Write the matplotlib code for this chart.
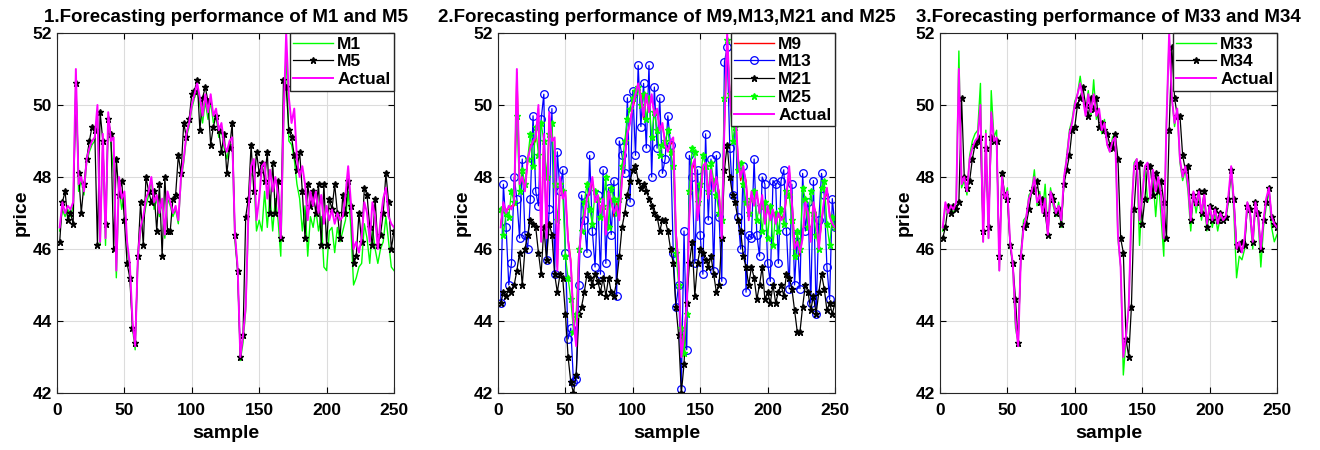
import numpy as np
import matplotlib
matplotlib.use('Agg')
import matplotlib.pyplot as plt

plt.rcParams['font.family'] = ['Liberation Sans', 'DejaVu Sans']
plt.rcParams['font.weight'] = 'bold'

# sample index (every second sample)
sample = np.arange(2, 251, 2)

actual = [46.6, 47.3, 47.0, 47.2, 47.1, 47.3, 51.0, 47.8, 48.0, 47.6,
          48.5, 48.8, 49.0, 49.1, 50.0, 46.2, 49.2, 46.3, 49.8, 49.0,
          49.1, 45.4, 48.0, 47.4, 47.6, 46.2, 45.6, 44.0, 43.3, 45.8,
          46.6, 46.9, 47.4, 47.6, 48.0, 47.3, 47.5, 47.0, 47.4, 46.4,
          47.6, 47.3, 47.0, 47.2, 46.8, 48.0, 48.5, 49.2, 49.5, 50.0,
          50.3, 50.6, 50.2, 49.7, 50.3, 49.8, 50.3, 49.7, 49.9, 49.3,
          49.5, 48.9, 48.7, 49.0, 49.1, 46.4, 45.5, 43.0, 43.6, 44.4,
          47.0, 48.3, 48.5, 46.8, 47.4, 48.3, 48.4, 47.4, 48.2, 47.6,
          48.0, 47.5, 46.3, 49.5, 52.0, 50.2, 49.5, 49.9, 48.5, 48.0,
          48.3, 47.8, 46.8, 47.6, 47.2, 47.6, 47.0, 47.5, 46.7, 47.2,
          46.8, 47.1, 46.7, 47.0, 46.8, 46.9, 47.5, 48.3, 47.3, 46.0,
          46.2, 45.9, 46.3, 47.3, 47.0, 46.2, 47.3, 46.9, 46.0, 46.8,
          47.4, 47.7, 46.9, 46.7, 46.6]

m1 = [46.5, 47.1, 46.9, 47.1, 46.9, 47.2, 50.8, 47.6, 47.9, 47.5,
      48.4, 48.7, 48.9, 49.0, 49.8, 46.1, 49.0, 46.1, 49.6, 48.9,
      48.1, 45.2, 47.8, 47.1, 47.5, 46.0, 45.5, 43.8, 43.2, 45.7,
      46.5, 46.8, 47.2, 47.5, 47.9, 47.1, 47.4, 46.9, 47.3, 46.3,
      47.4, 47.2, 46.9, 47.1, 46.7, 47.9, 48.4, 49.1, 49.4, 49.9,
      50.2, 50.4, 50.0, 49.5, 50.1, 49.6, 50.1, 49.5, 49.7, 49.1,
      49.3, 48.8, 48.5, 48.9, 48.9, 46.2, 45.4, 42.9, 43.4, 44.3,
      46.8, 48.1, 48.0, 46.5, 46.8, 46.5, 47.6, 46.6, 47.5, 46.5,
      47.4, 46.8, 45.8, 49.3, 51.5, 49.0, 48.9, 48.5, 47.8, 47.4,
      46.5, 47.2, 45.8, 46.9, 46.6, 47.1, 46.5, 46.9, 45.5, 45.4,
      46.5, 46.6, 45.9, 46.6, 46.2, 46.5, 46.8, 47.6, 46.6, 45.0,
      45.2, 45.5, 45.6, 46.7, 46.3, 45.6, 46.6, 46.0, 45.6, 46.0,
      46.2, 46.9, 46.2, 45.5, 45.4]

m5 = [46.2, 47.3, 47.6, 46.8, 47.0, 46.7, 50.6, 48.1, 47.0, 47.8,
      48.5, 49.0, 49.4, 49.3, 46.1, 49.8, 49.0, 46.7, 49.6, 49.2,
      46.0, 48.5, 47.5, 47.9, 46.8, 45.6, 45.2, 43.8, 43.4, 45.8,
      47.3, 46.1, 48.0, 47.6, 47.3, 47.6, 46.5, 47.8, 45.8, 48.0,
      46.5, 46.5, 47.4, 47.5, 48.6, 48.1, 49.5, 49.1, 49.6, 50.3,
      50.4, 50.7, 49.3, 50.2, 50.5, 50.1, 48.9, 49.4, 49.7, 49.3,
      48.7, 49.2, 48.1, 48.8, 49.5, 46.4, 45.4, 43.0, 43.6, 46.9,
      47.4, 48.9, 47.6, 48.7, 48.1, 48.4, 47.9, 48.7, 47.0, 48.4,
      47.0, 47.9, 46.3, 50.7, 50.5, 49.3, 49.1, 48.6, 48.2, 48.7,
      47.6, 46.3, 47.8, 47.2, 47.6, 47.0, 47.8, 46.1, 47.8, 46.1,
      47.4, 47.1, 47.8, 47.0, 46.3, 47.5, 47.0, 47.9, 47.2, 45.6,
      45.8, 47.0, 46.2, 47.7, 47.5, 46.6, 46.1, 47.4, 46.1, 46.4,
      47.0, 48.1, 47.3, 46.0, 46.5]

m9 = [46.7, 47.2, 47.1, 47.1, 47.2, 47.2, 50.9, 47.9, 47.9, 47.7,
      48.4, 48.9, 48.9, 49.0, 49.9, 46.3, 49.1, 46.4, 49.7, 49.1,
      49.0, 45.5, 47.9, 47.5, 47.5, 46.3, 45.7, 44.1, 43.4, 45.7,
      46.7, 46.8, 47.5, 47.5, 47.9, 47.4, 47.4, 47.1, 47.3, 46.5,
      47.5, 47.4, 46.9, 47.3, 46.9, 47.9, 48.6, 49.1, 49.6, 49.9,
      50.2, 50.5, 50.3, 49.6, 50.2, 49.9, 50.2, 49.8, 49.8, 49.4,
      49.4, 49.0, 48.8, 48.9, 49.0, 46.5, 45.6, 43.1, 43.5, 44.5,
      46.9, 48.2, 48.4, 46.9, 47.3, 48.2, 48.3, 47.5, 48.1, 47.7,
      47.9, 47.6, 46.4, 49.4, 51.8, 50.3, 49.4, 49.8, 48.6, 47.9,
      48.2, 47.9, 46.9, 47.5, 47.3, 47.5, 47.1, 47.4, 46.8, 47.1,
      46.9, 47.0, 46.8, 46.9, 46.9, 46.8, 47.4, 48.2, 47.4, 46.1,
      46.3, 45.8, 46.4, 47.2, 47.1, 46.3, 47.2, 47.0, 46.1, 46.7,
      47.3, 47.6, 47.0, 46.6, 46.7]

m13 = [44.5, 47.8, 46.6, 45.0, 45.6, 48.0, 47.4, 46.3, 48.5, 46.4,
       46.0, 47.4, 49.7, 47.6, 47.2, 49.6, 50.3, 45.7, 47.1, 49.9,
       45.3, 48.7, 47.6, 48.2, 45.9, 43.5, 43.8, 42.3, 42.4, 45.0,
       47.5, 46.8, 45.9, 48.6, 46.5, 45.5, 47.5, 45.3, 48.2, 45.6,
       47.7, 46.4, 47.9, 44.7, 49.0, 48.6, 48.1, 50.2, 47.3, 50.4,
       48.6, 51.1, 49.4, 50.6, 48.8, 51.1, 48.0, 50.5, 48.8, 50.2,
       48.1, 48.5, 49.7, 48.9, 45.9, 44.4, 45.0, 42.1, 46.5, 43.2,
       48.6, 48.0, 45.6, 48.2, 46.4, 45.3, 49.2, 46.8, 48.5, 45.4,
       48.6, 46.9, 45.1, 51.2, 51.6, 48.8, 47.5, 50.2, 46.9, 46.0,
       48.3, 44.8, 46.4, 46.3, 48.5, 46.4, 45.8, 48.0, 47.8, 45.6,
       45.1, 47.9, 47.8, 45.6, 47.9, 48.2, 46.5, 44.9, 47.8, 45.0,
       46.4, 44.9, 48.1, 46.5, 47.3, 44.5, 47.9, 44.2, 46.8, 48.1,
       47.5, 45.5, 44.6, 47.4, 46.6]

m21 = [44.5, 44.8, 44.7, 44.9, 44.8, 45.0, 45.4, 45.9, 45.0, 46.0,
       46.4, 46.8, 46.7, 46.6, 45.9, 45.3, 46.6, 45.7, 46.7, 46.4,
       45.3, 44.8, 45.3, 45.2, 44.2, 43.0, 42.3, 42.0, 42.5, 44.2,
       44.4, 44.8, 45.3, 45.2, 45.0, 45.3, 45.1, 44.8, 45.2, 44.7,
       45.2, 44.8, 44.7, 45.1, 45.8, 46.6, 47.0, 47.5, 47.9, 48.2,
       48.3, 47.9, 47.7, 47.8, 47.6, 47.4, 47.2, 47.0, 46.9, 46.5,
       46.8, 46.8, 46.5, 46.0, 45.6, 44.4, 43.6, 42.0, 42.8, 44.5,
       45.6, 46.2, 44.7, 45.6, 46.0, 45.9, 45.7, 45.5, 45.8, 45.3,
       44.8, 45.0, 46.3, 48.2, 48.9, 48.0, 47.5, 47.3, 46.8, 46.5,
       45.8, 45.5, 45.0, 45.5, 45.2, 44.6, 45.0, 45.5, 44.6, 44.8,
       44.5, 45.0, 44.5, 44.8, 45.0, 44.7, 45.3, 45.2, 44.9, 44.3,
       43.7, 43.7, 44.4, 45.0, 44.8, 44.3, 44.7, 44.2, 44.8, 45.3,
       44.9, 44.3, 44.5, 44.2, 44.5]

m25 = [47.1, 46.4, 47.0, 46.9, 47.6, 47.3, 49.7, 47.6, 48.2, 47.8,
       48.5, 49.2, 48.3, 49.4, 48.6, 49.5, 49.0, 48.0, 49.2, 49.5,
       47.8, 46.8, 47.8, 47.6, 45.8, 45.2, 44.6, 43.7, 44.2, 46.0,
       46.5, 47.3, 47.8, 47.1, 46.7, 47.6, 47.4, 46.9, 47.2, 48.0,
       46.6, 47.7, 47.4, 47.0, 47.4, 48.3, 49.0, 49.6, 49.9, 50.2,
       50.4, 50.5, 50.0, 50.3, 49.6, 50.2, 49.1, 49.8, 49.3, 48.6,
       48.9, 49.0, 49.3, 48.7, 48.3, 45.9, 45.0, 43.8, 43.1, 44.2,
       47.6, 48.8, 48.7, 47.3, 47.8, 48.6, 48.3, 47.6, 48.4, 47.9,
       47.5, 47.0, 46.8, 50.2, 51.8, 50.3, 49.0, 49.4, 48.2, 48.4,
       47.8, 47.3, 47.0, 47.4, 47.6, 46.8, 47.2, 46.5, 47.3, 46.3,
       47.2, 46.1, 47.0, 46.5, 47.1, 46.7, 47.6, 47.5, 46.8, 45.8,
       46.5, 46.0, 47.7, 47.4, 46.6, 47.6, 47.0, 46.4, 46.0, 47.7,
       47.9, 46.7, 46.1, 46.9, 46.6]

m33 = [46.5, 47.2, 47.0, 47.1, 47.0, 47.3, 51.5, 47.7, 47.9, 47.5,
       48.6, 49.0, 49.2, 49.3, 50.6, 46.2, 49.3, 46.3, 50.4, 49.1,
       49.3, 45.4, 48.1, 47.4, 47.7, 46.1, 45.5, 43.8, 43.4, 45.9,
       46.8, 46.9, 47.5, 47.6, 48.2, 47.2, 47.6, 47.0, 47.8, 46.5,
       47.7, 47.2, 46.9, 47.3, 46.6, 47.9, 48.6, 49.3, 49.6, 50.1,
       50.3, 50.8, 50.2, 49.8, 50.4, 49.7, 50.7, 49.6, 49.8, 49.2,
       49.6, 48.9, 48.7, 49.1, 49.2, 46.3, 45.5, 42.5, 43.5, 44.4,
       47.0, 48.4, 48.5, 46.1, 47.5, 48.3, 47.3, 47.5, 48.0, 46.9,
       47.9, 46.9, 45.8, 49.5, 51.9, 50.2, 49.4, 49.9, 48.4, 47.9,
       48.2, 47.6, 46.5, 47.5, 47.0, 47.5, 46.8, 47.4, 46.5, 47.1,
       46.6, 47.0, 46.5, 46.9, 46.8, 46.8, 47.3, 48.2, 47.0, 45.2,
       45.8, 45.7, 46.0, 47.3, 46.9, 46.0, 47.2, 46.8, 45.5, 46.6,
       47.2, 47.6, 46.6, 46.2, 46.4]

m34 = [46.3, 46.6, 47.2, 47.0, 47.2, 47.1, 47.3, 50.2, 48.0, 47.7,
       47.9, 48.5, 48.9, 49.0, 49.1, 46.5, 48.8, 46.6, 49.1, 49.0,
       49.0, 45.8, 48.1, 47.5, 47.4, 46.1, 45.6, 44.6, 43.4, 45.8,
       46.6, 46.7, 47.1, 47.6, 47.7, 47.9, 47.3, 47.4, 47.0, 46.4,
       47.5, 47.4, 47.0, 47.1, 46.7, 47.8, 48.2, 48.6, 49.3, 49.4,
       50.0, 50.2, 50.5, 50.0, 49.7, 50.2, 49.9, 50.2, 49.4, 49.5,
       49.3, 49.2, 48.9, 48.8, 49.2, 48.5, 46.3, 45.9, 43.5, 43.0,
       44.4, 47.1, 48.3, 48.4, 46.7, 47.4, 48.3, 48.3, 47.5, 48.1,
       47.6, 47.9, 47.3, 46.3, 49.3, 51.6, 50.2, 49.7, 49.7, 48.6,
       48.2, 48.3, 46.8, 47.5, 47.3, 47.6, 47.0, 47.6, 46.6, 47.2,
       46.8, 47.1, 46.8, 47.0, 46.8, 46.9, 47.4, 48.2, 47.4, 46.1,
       46.0, 46.2, 46.1, 47.2, 47.1, 46.2, 47.3, 47.0, 46.0, 46.8,
       47.3, 47.7, 46.9, 46.7, 46.6]

titles = ['1.Forecasting performance of M1 and M5',
          '2.Forecasting performance of M9,M13,M21 and M25',
          '3.Forecasting performance of M33 and M34']

GREEN = '#00ff00'
MAG = '#ff00ff'

fig = plt.figure(figsize=(13.2, 4.5), dpi=100)
lefts = [57 / 1320, 498 / 1320, 940 / 1320]
axes = [fig.add_axes([l, 57 / 450, 337 / 1320, 360 / 450]) for l in lefts]

ax = axes[0]
ax.plot(sample, m1, color=GREEN, lw=1, label='M1')
ax.plot(sample, m5, color='k', lw=0.9, marker='*', ms=5, label='M5')
ax.plot(sample, actual, color=MAG, lw=1.4, label='Actual')

ax = axes[1]
ax.plot(sample, m9, color='r', lw=1, label='M9')
ax.plot(sample, m13, color='b', lw=0.9, marker='o', ms=5.5, mfc='none', mew=0.9, label='M13')
ax.plot(sample, m21, color='k', lw=0.9, marker='*', ms=5, label='M21')
ax.plot(sample, m25, color=GREEN, lw=0.9, marker='*', ms=5, label='M25')
ax.plot(sample, actual, color=MAG, lw=1.4, label='Actual')

ax = axes[2]
ax.plot(sample, m33, color=GREEN, lw=1, label='M33')
ax.plot(sample, m34, color='k', lw=0.9, marker='*', ms=5, label='M34')
ax.plot(sample, actual, color=MAG, lw=1.4, label='Actual')

for ax, t in zip(axes, titles):
    ax.set_xlim(0, 250)
    ax.set_ylim(42, 52)
    ax.set_xticks([0, 50, 100, 150, 200, 250])
    ax.set_yticks([42, 44, 46, 48, 50, 52])
    ax.grid(True, color='#dcdcdc', lw=0.8)
    ax.set_axisbelow(True)
    ax.tick_params(direction='in', labelsize=12.5, length=4, top=True, right=True)
    ax.tick_params(axis='x', pad=7)
    for lab in ax.get_xticklabels() + ax.get_yticklabels():
        lab.set_fontweight('bold')
    for sp in ax.spines.values():
        sp.set_color('#262626')
        sp.set_linewidth(0.8)
    ax.set_title(t, fontsize=13.5, fontweight='bold', pad=8)
    ax.set_xlabel('sample', fontsize=14, fontweight='bold', labelpad=5)
    ax.set_ylabel('price', fontsize=14, fontweight='bold', labelpad=2)
    leg = ax.legend(loc='upper right', borderaxespad=0, fancybox=False,
                    framealpha=1, edgecolor='#262626', fontsize=12.5,
                    handlelength=2.3, handletextpad=0.25, borderpad=0.2,
                    labelspacing=0.15)
    for txt in leg.get_texts():
        txt.set_fontweight('bold')

fig.savefig('out.png', dpi=100)
